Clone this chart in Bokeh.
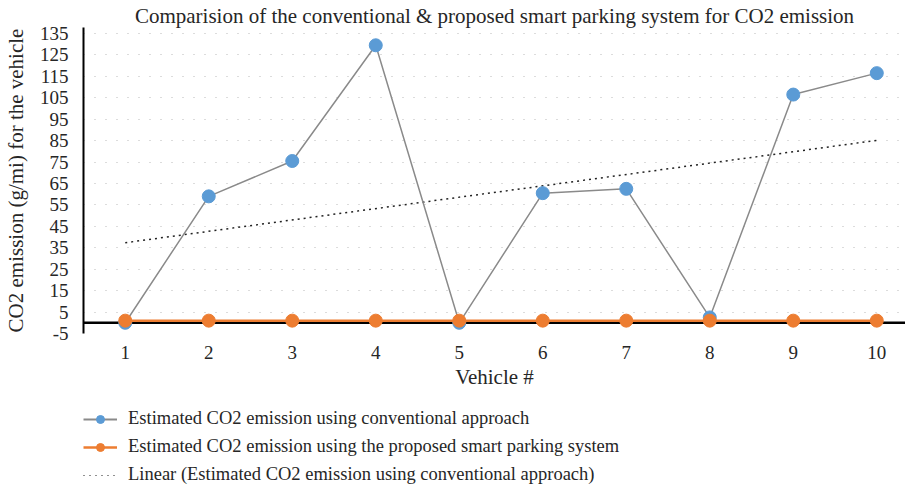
import numpy as np
from bokeh.plotting import figure
from bokeh.layouts import column
from bokeh.models import FixedTicker, Span, Legend, LegendItem, Range1d
from bokeh.embed import file_html
from bokeh.resources import INLINE

vehicles = [1, 2, 3, 4, 5, 6, 7, 8, 9, 10]
conventional = [0, 59, 75.5, 129.5, 0, 60.5, 62.5, 2.5, 106.5, 116.5]
proposed = [1, 1, 1, 1, 1, 1, 1, 1, 1, 1]
y_ticks = [-5, 5, 15, 25, 35, 45, 55, 65, 75, 85, 95, 105, 115, 125, 135]

title = "Comparision of the conventional & proposed smart parking system for CO2 emission"
label_conv = "Estimated CO2 emission using conventional approach"
label_prop = "Estimated CO2 emission using the proposed smart parking system"
label_lin = "Linear (Estimated CO2 emission using conventional approach)"

# linear trend (least squares fit of the conventional series, as in the source chart)
slope, intercept = np.polyfit(vehicles, conventional, 1)
trend_x = [vehicles[0], vehicles[-1]]
trend_y = [slope * x + intercept for x in trend_x]

FONT = "Liberation Serif"
TXT = "#262626"
BLUE = "#5B9BD5"
ORANGE = "#ED7D31"
GREY = "#8a8a8a"
TREND = "#222222"

p = figure(width=905, height=395, output_backend="svg", toolbar_location=None,
           x_range=Range1d(0.5, 10.344), y_range=Range1d(-5, 137.8),
           min_border_left=83, min_border_right=0, min_border_top=27,
           min_border_bottom=62, title=title)

p.title.text_font = FONT
p.title.text_font_size = "21px"
p.title.text_font_style = "normal"
p.title.text_color = TXT
p.title.align = "center"
p.title.standoff = 0

p.outline_line_color = None
p.background_fill_color = "white"
p.border_fill_color = "white"

# grid
p.xgrid.grid_line_color = None
p.ygrid.grid_line_color = "#b8b8b8"
p.ygrid.grid_line_dash = "1 10"
p.ygrid.grid_line_width = 1
p.ygrid.ticker = FixedTicker(ticks=y_ticks)

# axes
p.yaxis.ticker = FixedTicker(ticks=y_ticks)
p.yaxis.major_label_overrides = {-5: "-5"}
p.xaxis.ticker = FixedTicker(ticks=vehicles)
for ax in (p.xaxis, p.yaxis):
    ax.major_label_text_font = FONT
    ax.major_label_text_font_size = "19px"
    ax.major_label_text_color = TXT
    ax.axis_label_text_font = FONT
    ax.axis_label_text_font_size = "21px"
    ax.axis_label_text_font_style = "normal"
    ax.axis_label_text_color = TXT
    ax.major_tick_line_color = None
    ax.minor_tick_line_color = None
p.yaxis.axis_line_color = "black"
p.yaxis.axis_line_width = 2
p.yaxis.major_label_standoff = 9
p.yaxis.axis_label = "CO2 emission (g/mi) for the vehicle"
p.yaxis.axis_label_standoff = 9
p.xaxis.axis_line_color = None
p.xaxis.major_label_standoff = 6
p.xaxis.axis_label = "Vehicle #"
p.xaxis.axis_label_standoff = 3

# zero line
p.add_layout(Span(location=0, dimension="width", line_color="black", line_width=2.5, level="underlay"))

# trend
p.line(trend_x, trend_y, line_color=TREND, line_width=1.5, line_dash="2 4")

# conventional
p.line(vehicles, conventional, line_color=GREY, line_width=1.5)
p.scatter(vehicles, conventional, size=13, fill_color=BLUE, line_color=BLUE)

# proposed
p.line(vehicles, proposed, line_color=ORANGE, line_width=2.5)
p.scatter(vehicles, proposed, size=13, fill_color=ORANGE, line_color=ORANGE)

# legend strip below the chart: proxy renderers of the same series, kept outside
# this strip's visible ranges so only their legend glyphs appear
p2 = figure(width=905, height=90, output_backend="svg", toolbar_location=None,
            x_axis_type=None, y_axis_type=None,
            x_range=Range1d(1000, 1001), y_range=Range1d(1000, 1001), min_border=0)
p2.outline_line_color = None
p2.grid.visible = False
e_conv_l = p2.line(vehicles, conventional, line_color=GREY, line_width=2)
e_conv_m = p2.scatter(vehicles, conventional, fill_color=BLUE, line_color=BLUE)
e_prop_l = p2.line(vehicles, proposed, line_color=ORANGE, line_width=2.5)
e_prop_m = p2.scatter(vehicles, proposed, fill_color=ORANGE, line_color=ORANGE)
e_trend = p2.line(trend_x, trend_y, line_color=TREND, line_width=1.2, line_dash="1 5")

legend = Legend(items=[
    LegendItem(label=label_conv, renderers=[e_conv_l, e_conv_m]),
    LegendItem(label=label_prop, renderers=[e_prop_l, e_prop_m]),
    LegendItem(label=label_lin, renderers=[e_trend]),
], location=(0, 0), orientation="vertical")
legend.label_text_font = FONT
legend.label_text_font_size = "18.5px"
legend.label_text_color = TXT
legend.glyph_width = 34
legend.glyph_height = 20
legend.label_height = 20
legend.spacing = 7
legend.label_standoff = 11
legend.padding = 0
legend.margin = 0
legend.border_line_color = None
legend.background_fill_alpha = 0
p2.add_layout(legend, "center")

layout = column(p, p2, spacing=0)
open("out.html", "w").write(file_html(layout, INLINE))
